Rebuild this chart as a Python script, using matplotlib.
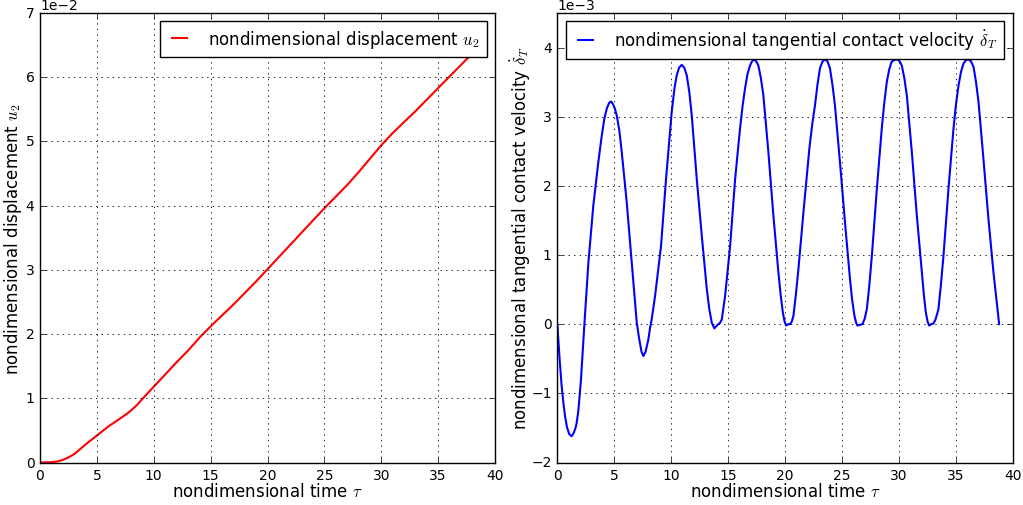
import matplotlib
matplotlib.use("Agg")
import matplotlib.pyplot as plt
from matplotlib.ticker import ScalarFormatter

# ---- data ----
tau_u = [0.0, 1.0, 1.5, 2.0, 2.5, 3.0, 4.0, 5.0, 6.0, 7.0, 7.65, 8.0, 8.5, 9.0,
         10.0, 11.0, 12.0, 13.0, 14.0, 15.0, 16.0, 17.0, 18.0, 19.0, 20.0, 21.0,
         22.0, 23.0, 24.0, 25.0, 26.0, 27.0, 28.0, 29.0, 30.0, 31.0, 32.0, 33.0,
         34.0, 35.0, 36.0, 37.0, 38.0, 38.8]
u2 = [0.0, 0.00005, 0.00015, 0.0004, 0.0008, 0.0013, 0.0028, 0.0042, 0.0056,
      0.0068, 0.0076, 0.0081, 0.0089, 0.0099, 0.0118, 0.0137, 0.0156, 0.0174,
      0.0194, 0.0212, 0.0229, 0.0246, 0.0264, 0.0282, 0.0301, 0.0320, 0.0339,
      0.0358, 0.0377, 0.0396, 0.0414, 0.0432, 0.0452, 0.0473, 0.0494, 0.0513,
      0.0530, 0.0547, 0.0565, 0.0583, 0.0601, 0.0619, 0.0637, 0.0651]

tau_v = [0.0, 0.2, 0.38, 0.55, 0.68, 0.85, 1.05, 1.26, 1.45, 1.60, 1.70, 1.85,
         2.08, 2.38, 2.73, 3.16, 3.60, 3.90, 4.13, 4.35, 4.55, 4.72, 4.90, 5.05,
         5.22, 5.45, 5.66, 6.10, 6.54, 6.98, 7.2, 7.4, 7.56, 7.75, 8.0, 8.15,
         8.29, 8.59, 9.11, 9.55, 10.05, 10.3, 10.49, 10.7, 10.93, 11.15, 11.37,
         11.6, 11.81, 12.25, 12.69, 13.13, 13.35, 13.57, 13.80, 13.95, 14.15,
         14.30, 14.45, 14.74, 15.18, 15.62, 16.05, 16.27, 16.49, 16.71, 16.93,
         17.10, 17.29, 17.48, 17.66, 17.88, 18.10, 18.54, 18.98, 19.42, 19.62,
         19.81, 19.96, 20.10, 20.28, 20.45, 20.6, 20.74, 20.95, 21.18, 21.62,
         22.14, 22.40, 22.63, 22.85, 23.07, 23.30, 23.51, 23.73, 23.95, 24.17,
         24.39, 24.83, 25.27, 25.71, 25.90, 26.10, 26.25, 26.36, 26.55, 26.80,
         27.0, 27.19, 27.40, 27.63, 28.07, 28.50, 28.72, 28.94, 29.15, 29.35,
         29.6, 29.88, 30.07, 30.26, 30.48, 30.70, 31.14, 31.58, 32.02, 32.20,
         32.37, 32.52, 32.66, 32.85, 33.04, 33.20, 33.35, 33.48, 33.70, 33.92,
         34.36, 34.80, 35.02, 35.24, 35.46, 35.68, 35.90, 36.12, 36.34, 36.56,
         36.78, 37.0, 37.43, 37.87, 38.31, 38.81]
vel = [0.0, -0.50, -0.89, -1.16, -1.33, -1.49, -1.59, -1.62, -1.57, -1.50, -1.43,
       -1.25, -0.80, 0.0, 0.89, 1.71, 2.34, 2.72, 2.97, 3.12, 3.20, 3.22, 3.18,
       3.12, 3.02, 2.80, 2.49, 1.76, 0.89, 0.02, -0.22, -0.40, -0.46, -0.40,
       -0.22, -0.05, 0.07, 0.41, 1.13, 2.10, 3.07, 3.42, 3.60, 3.71, 3.75, 3.71,
       3.60, 3.35, 3.02, 2.10, 1.28, 0.51, 0.22, 0.02, -0.06, -0.03, 0.0,
       0.02, 0.07, 0.41, 1.13, 2.10, 2.83, 3.15, 3.41, 3.62, 3.74,
       3.80, 3.83, 3.80, 3.74, 3.56, 3.31, 2.49, 1.57, 0.75, 0.42,
       0.17, 0.04, -0.02, 0.0, 0.0, 0.04, 0.12, 0.42, 0.80, 1.62,
       2.54, 2.90, 3.16, 3.46, 3.70, 3.80, 3.83, 3.80, 3.70, 3.46,
       3.16, 2.34, 1.47, 0.65, 0.35, 0.12, 0.02, -0.02, -0.01, 0.0,
       0.08, 0.22, 0.55, 0.99, 1.96, 2.83, 3.20, 3.50, 3.68, 3.79,
       3.82, 3.83, 3.80, 3.74, 3.56, 3.31, 2.49, 1.57, 0.75, 0.42,
       0.17, 0.04, -0.02, 0.0, 0.01, 0.06, 0.14, 0.22, 0.58, 0.99,
       1.96, 2.83, 3.18, 3.45, 3.65, 3.77, 3.82, 3.83, 3.80, 3.72,
       3.50, 3.21, 2.39, 1.52, 0.75, 0.0]
vel = [v * 1e-3 for v in vel]

plt.style.use("classic")
plt.rcParams["font.family"] = ["DejaVu Sans"]
plt.rcParams["mathtext.fontset"] = "cm"

fig = plt.figure(figsize=(10.23, 5.06), dpi=100, facecolor="white")
ax1 = fig.add_axes([40 / 1023, 1 - 463.5 / 506, 455 / 1023, 449.5 / 506])
ax2 = fig.add_axes([557.3 / 1023, 1 - 463.5 / 506, 455.4 / 1023, 449.5 / 506])

lab_fs = 12
tick_fs = 10

ax1.plot(tau_u, u2, color="red", lw=1.5, label=r"nondimensional displacement $u_2$")
ax1.set_xlim(0, 40)
ax1.set_ylim(0, 0.07)
ax1.set_xlabel(r"nondimensional time $\tau$", fontsize=lab_fs, labelpad=0)
ax1.set_ylabel(r"nondimensional displacement $u_2$", fontsize=lab_fs, labelpad=1)

ax2.plot(tau_v, vel, color="blue", lw=1.5,
         label=r"nondimensional tangential contact velocity $\dot{\delta}_T$")
ax2.set_xlim(0, 40)
ax2.set_ylim(-0.002, 0.0045)
ax2.set_yticks([-0.002, -0.001, 0, 0.001, 0.002, 0.003, 0.004])
ax2.set_xlabel(r"nondimensional time $\tau$", fontsize=lab_fs, labelpad=0)
ax2.set_ylabel(r"nondimensional tangential contact velocity $\dot{\delta}_T$",
               fontsize=lab_fs, labelpad=-1)

for ax in (ax1, ax2):
    fmt = ScalarFormatter(useMathText=False)
    fmt.set_powerlimits((0, 0))
    ax.yaxis.set_major_formatter(fmt)
    ax.yaxis.get_offset_text().set_fontsize(tick_fs)
    ax.tick_params(labelsize=tick_fs, direction="in", top=True, right=True)
    ax.grid(True, color="black", linestyle=":", linewidth=0.6)
    ax.legend(loc="upper right", fontsize=lab_fs, frameon=True, fancybox=False,
              handlelength=1.5, handletextpad=1.0, borderaxespad=0.5)

fig.savefig("out.png", dpi=100, facecolor="white")
